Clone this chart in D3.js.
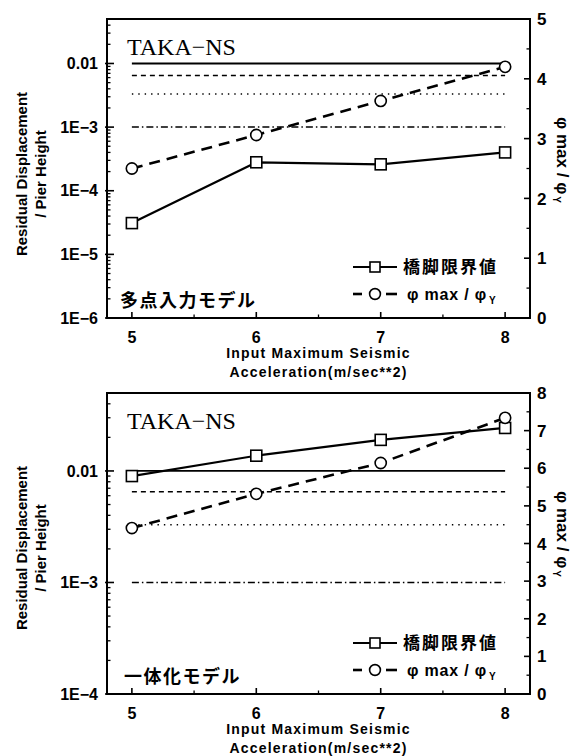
<!DOCTYPE html>
<html>
<head>
<meta charset="utf-8">
<script src="https://cdn.jsdelivr.net/npm/d3@7"></script>
<style>
  html, body { margin: 0; padding: 0; background: #fff; }
  svg { display: block; }
  .sans { font-family: "Liberation Sans", Arial, sans-serif; font-weight: bold; }
  .serif { font-family: "Liberation Serif", "Times New Roman", serif; }
  .jp { font-family: "Noto Sans CJK JP", sans-serif; font-weight: bold; }
</style>
</head>
<body>
<script>
// Input maximum seismic acceleration (m/sec**2)
const accel = [5, 6, 7, 8];

// Multi-point input model: residual displacement / pier height, and phi max / phi y
const limitMulti = [3.1e-5, 2.8e-4, 2.6e-4, 4.0e-4];
const ratioMulti = [2.50, 3.06, 3.63, 4.20];

// Integrated model
const limitUnified = [0.0090, 0.0137, 0.0190, 0.0243];
const ratioUnified = [4.41, 5.32, 6.14, 7.34];

// Horizontal reference levels of residual displacement ratio
const refLevels = [0.01, 0.0065, 0.0033, 0.001];
const refDash = [null, "5,4", "1.4,5", "7,3,1.5,3"];

// Tick labels
const xTickValues = [5, 6, 7, 8];
const logTicksMulti = [1e-6, 1e-5, 1e-4, 1e-3, 1e-2];
const logLabelsMulti = ["1E\u22126", "1E\u22125", "1E\u22124", "1E\u22123", "0.01"];
const logTicksUnified = [1e-4, 1e-3, 1e-2];
const logLabelsUnified = ["1E\u22124", "1E\u22123", "0.01"];
const ratioTicksMulti = [0, 1, 2, 3, 4, 5];
const ratioTicksUnified = [0, 1, 2, 3, 4, 5, 6, 7, 8];

const titleText = "TAKA\u2212NS";
const legendLimit = "橋脚限界値";
const xTitle1 = "Input Maximum Seismic";
const xTitle2 = "Acceleration(m/sec**2)";
const yTitle1 = "Residual Displacement";
const yTitle2 = "/ Pier Height";

const W = 580, H = 756;
const svg = d3.select("body").append("svg").attr("width", W).attr("height", H);

const panels = [
  { top: 19, bottom: 318, yDomain: [1e-6, 0.05], logTicks: logTicksMulti, logLabels: logLabelsMulti,
    rDomain: [0, 5], rTicks: ratioTicksMulti, limit: limitMulti, ratio: ratioMulti,
    model: "多点入力モデル", modelX: 120, yTitleCy: 174, rTitleCy: 160 },
  { top: 393, bottom: 694, yDomain: [1e-4, 0.05], logTicks: logTicksUnified, logLabels: logLabelsUnified,
    rDomain: [0, 8], rTicks: ratioTicksUnified, limit: limitUnified, ratio: ratioUnified,
    model: "一体化モデル", modelX: 124, yTitleCy: 548, rTitleCy: 534 }
];

const left = 107, right = 530;
const x = d3.scaleLinear().domain([4.8, 8.2]).range([left, right]);

function addPhiRatio(textSel, subSize) {
  textSel.append("tspan").text("\u03c6");
  textSel.append("tspan").text(" max / ");
  textSel.append("tspan").text("\u03c6");
  textSel.append("tspan").attr("font-size", subSize).attr("dy", "0.45em").attr("dx", "2").text("Y");
}

panels.forEach(p => {
  const g = svg.append("g");
  const y = d3.scaleLog().domain(p.yDomain).range([p.bottom, p.top]);
  const yr = d3.scaleLinear().domain(p.rDomain).range([p.bottom, p.top]);

  // Reference levels
  refLevels.forEach((v, i) => {
    g.append("line")
      .attr("x1", x(5)).attr("x2", x(8))
      .attr("y1", y(v)).attr("y2", y(v))
      .attr("stroke", "#000")
      .attr("stroke-width", i === 0 ? 1.8 : 1.5)
      .attr("stroke-dasharray", refDash[i]);
  });

  // Frame
  g.append("path")
    .attr("d", `M${left},${p.top}H${right}V${p.bottom}H${left}Z`)
    .attr("fill", "none").attr("stroke", "#000").attr("stroke-width", 2);

  // Left log axis ticks (inward)
  const minor = y.ticks().filter(t => !p.logTicks.some(m => Math.abs(m - t) / m < 1e-6));
  minor.forEach(t => {
    g.append("line").attr("x1", left).attr("x2", left + 3.5)
      .attr("y1", y(t)).attr("y2", y(t)).attr("stroke", "#000").attr("stroke-width", 1.3);
  });
  p.logTicks.forEach((t, i) => {
    g.append("line").attr("x1", left - 2).attr("x2", left + 7)
      .attr("y1", y(t)).attr("y2", y(t)).attr("stroke", "#000").attr("stroke-width", 1.6);
    g.append("text").attr("class", "sans").attr("font-size", 16)
      .attr("x", left - 9).attr("y", y(t)).attr("dy", "0.36em")
      .attr("text-anchor", "end").text(p.logLabels[i]);
  });

  // Right linear axis
  d3.range(p.rDomain[0] + 0.5, p.rDomain[1], 1).forEach(t => {
    g.append("line").attr("x1", right - 3.5).attr("x2", right)
      .attr("y1", yr(t)).attr("y2", yr(t)).attr("stroke", "#000").attr("stroke-width", 1.3);
  });
  p.rTicks.forEach(t => {
    g.append("line").attr("x1", right - 6).attr("x2", right)
      .attr("y1", yr(t)).attr("y2", yr(t)).attr("stroke", "#000").attr("stroke-width", 1.6);
    g.append("text").attr("class", "sans").attr("font-size", 17)
      .attr("x", right + 7).attr("y", yr(t)).attr("dy", "0.36em")
      .text(t);
  });

  // Bottom axis
  [5.5, 6.5, 7.5].forEach(t => {
    g.append("line").attr("x1", x(t)).attr("x2", x(t))
      .attr("y1", p.bottom).attr("y2", p.bottom - 3.5).attr("stroke", "#000").attr("stroke-width", 1.3);
  });
  xTickValues.forEach(t => {
    g.append("line").attr("x1", x(t)).attr("x2", x(t))
      .attr("y1", p.bottom + 1).attr("y2", p.bottom - 6).attr("stroke", "#000").attr("stroke-width", 1.6);
    g.append("text").attr("class", "sans").attr("font-size", 16)
      .attr("x", x(t)).attr("y", p.bottom + 25).attr("text-anchor", "middle").text(t);
  });

  // Axis titles
  const cx = (left + right) / 2;
  g.append("text").attr("class", "sans").attr("font-size", 14).attr("letter-spacing", 1.2)
    .attr("x", cx).attr("y", p.bottom + 40).attr("text-anchor", "middle").text(xTitle1);
  g.append("text").attr("class", "sans").attr("font-size", 14).attr("letter-spacing", 1.2)
    .attr("x", cx).attr("y", p.bottom + 59).attr("text-anchor", "middle").text(xTitle2);

  g.append("text").attr("class", "sans").attr("font-size", 15)
    .attr("transform", `translate(27,${p.yTitleCy}) rotate(-90)`)
    .attr("text-anchor", "middle").text(yTitle1);
  g.append("text").attr("class", "sans").attr("font-size", 15)
    .attr("transform", `translate(46,${p.yTitleCy}) rotate(-90)`)
    .attr("text-anchor", "middle").text(yTitle2);

  const rt = g.append("text").attr("class", "sans").attr("font-size", 17)
    .attr("transform", `translate(557,${p.rTitleCy}) rotate(90)`)
    .attr("text-anchor", "middle");
  addPhiRatio(rt, 10);

  // Panel title and model name
  g.append("text").attr("class", "serif").attr("font-size", 24)
    .attr("x", 127).attr("y", p.top + 36).text(titleText);
  g.append("text").attr("class", "jp").attr("font-size", 18).attr("letter-spacing", 1.5)
    .attr("x", p.modelX).attr("y", p.bottom - 11).text(p.model);

  // Data lines
  const limitLine = d3.line().x((d, i) => x(accel[i])).y(d => y(d));
  const ratioLine = d3.line().x((d, i) => x(accel[i])).y(d => yr(d));

  g.append("path").datum(p.ratio).attr("d", ratioLine)
    .attr("fill", "none").attr("stroke", "#000").attr("stroke-width", 2.6)
    .attr("stroke-dasharray", "11,7");
  g.append("path").datum(p.limit).attr("d", limitLine)
    .attr("fill", "none").attr("stroke", "#000").attr("stroke-width", 2.2);

  g.selectAll(null).data(p.limit).enter().append("rect")
    .attr("x", (d, i) => x(accel[i]) - 5.5).attr("y", d => y(d) - 5.5)
    .attr("width", 11).attr("height", 11)
    .attr("fill", "#fff").attr("stroke", "#000").attr("stroke-width", 1.6);
  g.selectAll(null).data(p.ratio).enter().append("circle")
    .attr("cx", (d, i) => x(accel[i])).attr("cy", d => yr(d)).attr("r", 5.6)
    .attr("fill", "#fff").attr("stroke", "#000").attr("stroke-width", 1.6);

  // Legend
  const ly1 = p.bottom - 51, ly2 = p.bottom - 24;
  g.append("line").attr("x1", 353).attr("x2", 397).attr("y1", ly1).attr("y2", ly1)
    .attr("stroke", "#000").attr("stroke-width", 2.2);
  g.append("rect").attr("x", 375 - 5).attr("y", ly1 - 5).attr("width", 10).attr("height", 10)
    .attr("fill", "#fff").attr("stroke", "#000").attr("stroke-width", 1.6);
  g.append("text").attr("class", "jp").attr("font-size", 17).attr("letter-spacing", 2)
    .attr("x", 403).attr("y", ly1).attr("dy", "0.36em").text(legendLimit);

  g.append("line").attr("x1", 353).attr("x2", 362).attr("y1", ly2).attr("y2", ly2)
    .attr("stroke", "#000").attr("stroke-width", 2.6);
  g.append("line").attr("x1", 386).attr("x2", 397).attr("y1", ly2).attr("y2", ly2)
    .attr("stroke", "#000").attr("stroke-width", 2.6);
  g.append("circle").attr("cx", 375).attr("cy", ly2).attr("r", 5.4)
    .attr("fill", "#fff").attr("stroke", "#000").attr("stroke-width", 1.6);
  const lt = g.append("text").attr("class", "sans").attr("font-size", 16).attr("letter-spacing", 0.8)
    .attr("x", 407).attr("y", ly2).attr("dy", "0.36em");
  addPhiRatio(lt, 10);
});
</script>
</body>
</html>
